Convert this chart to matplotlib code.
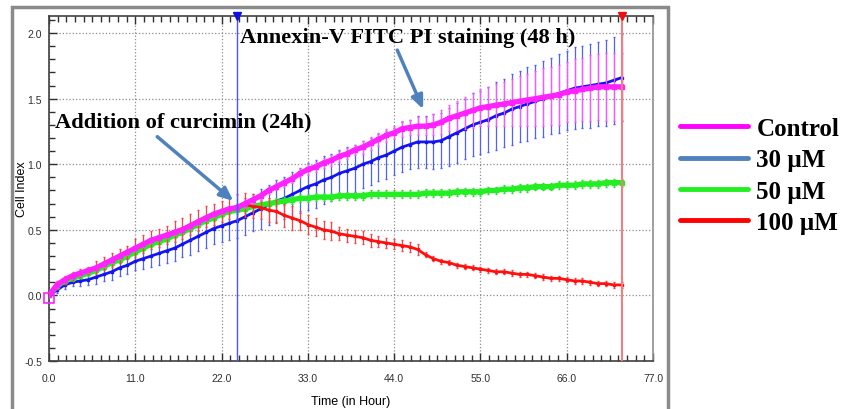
import numpy as np
import matplotlib.pyplot as plt
from matplotlib.lines import Line2D
from matplotlib.patches import Rectangle
from matplotlib.ticker import MultipleLocator, FormatStrFormatter

# time points (hours)
hours = list(range(74))

control = [0.00, 0.08, 0.12, 0.15, 0.17, 0.19, 0.21, 0.24, 0.27, 0.30,
           0.33, 0.36, 0.39, 0.42, 0.44, 0.46, 0.48, 0.50, 0.53, 0.56,
           0.59, 0.62, 0.64, 0.66, 0.67, 0.70, 0.73, 0.76, 0.80, 0.83,
           0.86, 0.89, 0.93, 0.96, 0.98, 1.01, 1.03, 1.06, 1.08, 1.11,
           1.13, 1.16, 1.19, 1.22, 1.24, 1.27, 1.28, 1.29, 1.29, 1.30,
           1.32, 1.35, 1.37, 1.39, 1.41, 1.43, 1.44, 1.45, 1.46, 1.47,
           1.48, 1.49, 1.50, 1.51, 1.52, 1.53, 1.55, 1.56, 1.57, 1.58,
           1.59, 1.59, 1.59, 1.59]
control_err = [0.00, 0.02, 0.02, 0.02, 0.02, 0.02, 0.02, 0.02, 0.02, 0.02,
               0.02, 0.02, 0.02, 0.02, 0.02, 0.02, 0.02, 0.02, 0.02, 0.02,
               0.02, 0.02, 0.02, 0.02, 0.03, 0.03, 0.03, 0.03, 0.03, 0.03,
               0.03, 0.03, 0.03, 0.04, 0.04, 0.04, 0.04, 0.04, 0.04, 0.04,
               0.05, 0.05, 0.05, 0.05, 0.05, 0.06, 0.06, 0.07, 0.07, 0.08,
               0.09, 0.10, 0.11, 0.12, 0.13, 0.14, 0.15, 0.16, 0.17, 0.18,
               0.19, 0.20, 0.21, 0.22, 0.22, 0.23, 0.23, 0.24, 0.24, 0.25,
               0.25, 0.26, 0.26, 0.26]

um30 = [0.00, 0.04, 0.08, 0.10, 0.11, 0.12, 0.14, 0.16, 0.18, 0.21,
        0.23, 0.26, 0.28, 0.30, 0.32, 0.34, 0.36, 0.39, 0.42, 0.45,
        0.48, 0.51, 0.53, 0.55, 0.57, 0.60, 0.63, 0.66, 0.69, 0.72,
        0.74, 0.77, 0.80, 0.83, 0.85, 0.88, 0.90, 0.93, 0.95, 0.97,
        1.00, 1.02, 1.05, 1.07, 1.10, 1.13, 1.15, 1.17, 1.17, 1.17,
        1.18, 1.21, 1.24, 1.27, 1.30, 1.32, 1.34, 1.37, 1.39, 1.42,
        1.44, 1.46, 1.48, 1.50, 1.52, 1.54, 1.56, 1.58, 1.59, 1.60,
        1.61, 1.62, 1.64, 1.66]
um30_err = [0.00, 0.02, 0.03, 0.03, 0.04, 0.04, 0.05, 0.05, 0.06, 0.06,
            0.07, 0.07, 0.08, 0.08, 0.09, 0.09, 0.10, 0.10, 0.11, 0.11,
            0.12, 0.12, 0.12, 0.13, 0.13, 0.14, 0.14, 0.15, 0.15, 0.16,
            0.16, 0.17, 0.17, 0.18, 0.18, 0.18, 0.18, 0.18, 0.18, 0.18,
            0.18, 0.18, 0.18, 0.18, 0.18, 0.19, 0.19, 0.20, 0.20, 0.21,
            0.21, 0.22, 0.23, 0.23, 0.24, 0.24, 0.25, 0.26, 0.26, 0.27,
            0.27, 0.28, 0.28, 0.29, 0.29, 0.30, 0.30, 0.31, 0.31, 0.32,
            0.32, 0.33, 0.33, 0.33]

um50 = [0.00, 0.07, 0.11, 0.13, 0.15, 0.17, 0.19, 0.22, 0.25, 0.27,
        0.30, 0.33, 0.36, 0.39, 0.41, 0.43, 0.46, 0.48, 0.51, 0.54,
        0.57, 0.59, 0.62, 0.64, 0.65, 0.66, 0.68, 0.69, 0.70, 0.71,
        0.72, 0.73, 0.74, 0.74, 0.75, 0.75, 0.75, 0.76, 0.76, 0.76,
        0.76, 0.77, 0.77, 0.77, 0.77, 0.77, 0.77, 0.77, 0.78, 0.78,
        0.78, 0.78, 0.79, 0.79, 0.79, 0.79, 0.80, 0.80, 0.81, 0.81,
        0.82, 0.82, 0.83, 0.83, 0.83, 0.84, 0.84, 0.84, 0.85, 0.85,
        0.85, 0.86, 0.86, 0.86]
um50_err = [0.00] + [0.02] * 23 + [0.03] * 50

um100 = [0.00, 0.08, 0.12, 0.15, 0.17, 0.19, 0.21, 0.24, 0.27, 0.30,
         0.33, 0.36, 0.39, 0.42, 0.44, 0.46, 0.49, 0.51, 0.54, 0.57,
         0.60, 0.62, 0.64, 0.66, 0.68, 0.69, 0.68, 0.67, 0.65, 0.64,
         0.61, 0.59, 0.57, 0.54, 0.52, 0.50, 0.49, 0.47, 0.46, 0.45,
         0.44, 0.42, 0.41, 0.40, 0.39, 0.38, 0.37, 0.35, 0.31, 0.28,
         0.26, 0.25, 0.23, 0.22, 0.21, 0.20, 0.19, 0.18, 0.18, 0.17,
         0.16, 0.16, 0.15, 0.14, 0.13, 0.13, 0.12, 0.11, 0.11, 0.10,
         0.09, 0.09, 0.08, 0.08]
um100_err = [0.00, 0.03, 0.03, 0.03, 0.03, 0.03, 0.05, 0.05, 0.05, 0.05,
             0.05, 0.07, 0.07, 0.07, 0.07, 0.07, 0.08, 0.08, 0.08, 0.08,
             0.08, 0.08, 0.08, 0.08, 0.09, 0.09, 0.09, 0.09, 0.09, 0.09,
             0.09, 0.09, 0.07, 0.07, 0.07, 0.07, 0.07, 0.05, 0.05, 0.05,
             0.05, 0.05, 0.04, 0.04, 0.04, 0.04, 0.04, 0.04, 0.02, 0.02,
             0.02, 0.02, 0.02, 0.02, 0.02, 0.02, 0.02, 0.02, 0.02, 0.02,
             0.02, 0.02, 0.02, 0.02, 0.02, 0.02, 0.02, 0.02, 0.02, 0.02,
             0.02, 0.02, 0.02, 0.02]

legend_labels = ["Control", "30 \u00b5M", "50 \u00b5M", "100 \u00b5M"]
legend_colors = ["#ff00ff", "#4f81bd", "#22ee22", "#ff0000"]

x_ticks = [0, 11, 22, 33, 44, 55, 66, 77]
y_ticks = [-0.5, 0.0, 0.5, 1.0, 1.5, 2.0]
addition_time = 24
staining_time = 73

fig = plt.figure(figsize=(8.58, 4.10), dpi=100)
ax = fig.add_axes([49 / 858, 1 - 362 / 410, (653 - 49) / 858, (362 - 17) / 410])

# series (blue drawn first, magenta on top)
ax.errorbar(hours, um30, yerr=um30_err, color="#1414f0", ecolor="#5060ff",
            elinewidth=0.9, capsize=1.0, lw=2, marker="s", ms=2, zorder=3)
ax.errorbar(hours, um50, yerr=um50_err, color="#22ee22", ecolor="#33dd33",
            elinewidth=0.9, capsize=1.0, lw=3.8, marker="s", ms=2.5, zorder=4)
ax.errorbar(hours, um100, yerr=um100_err, color="#ff1010", ecolor="#ff4040",
            elinewidth=0.9, capsize=1.0, lw=2, marker="s", ms=2, zorder=5)
ax.errorbar(hours, control, yerr=control_err, color="#ff22ff", ecolor="#ff55ff",
            elinewidth=0.9, capsize=1.0, lw=3.8, marker="s", ms=2.5, zorder=6)
ax.plot(hours[0], control[0] - 0.02, marker="s", ms=7, mfc="none", mec="#ff22ff",
        mew=1.2, zorder=7, clip_on=False)

ax.set_xlim(0, 77)
ax.set_ylim(-0.5, 2.13)

# event markers
ax.axvline(addition_time, color="#4a55ff", lw=1, zorder=8)
ax.axvline(staining_time, color="#f08080", lw=1.5, zorder=8)
ax.plot(addition_time, 2.13, marker="v", color="#1010e0", ms=6, clip_on=False, zorder=9)
ax.plot(staining_time, 2.13, marker="v", color="#ee1010", ms=6, clip_on=False, zorder=9)

# ticks and grid
ax.set_xticks(x_ticks)
ax.set_yticks(y_ticks)
ax.xaxis.set_minor_locator(MultipleLocator(1.1))
ax.yaxis.set_minor_locator(MultipleLocator(0.1))
ax.xaxis.set_major_formatter(FormatStrFormatter("%.1f"))
ax.yaxis.set_major_formatter(FormatStrFormatter("%.1f"))
ax.tick_params(axis="x", which="both", direction="in", top=True, bottom=True,
               colors="#303030", labelsize=7.5, pad=9)
ax.tick_params(axis="y", which="both", direction="in", left=True, right=False,
               colors="#303030", labelsize=7.5, pad=5)
ax.tick_params(which="major", length=6, width=1)
ax.tick_params(which="minor", length=4, width=1)
for lab in ax.get_xticklabels() + ax.get_yticklabels():
    lab.set_family("Liberation Sans")
ax.grid(True, which="major", ls=":", color="#8c8c8c", lw=0.9)
for sp in ax.spines.values():
    sp.set_color("#404040")
    sp.set_linewidth(1.2)
ax.spines["right"].set_color("#909090")

ax.set_xlabel("Time (in Hour)", family="Liberation Sans", fontsize=9, labelpad=8)
ax.set_ylabel("Cell Index", family="Liberation Sans", fontsize=9, labelpad=-3)

# annotations
serif = dict(family="Liberation Serif", weight="bold", fontsize=16.2, color="black")
ax.text(0.8, 1.326, "Addition of curcimin (24h)", va="center", ha="left", zorder=10, **serif)
ax.text(24.4, 1.97, "Annexin-V FITC PI staining (48 h)", va="center", ha="left", zorder=10, **serif)
arrow = dict(arrowstyle="-|>,head_width=0.35,head_length=0.8", color="#4f81bd",
             lw=2.5, shrinkA=0, shrinkB=0)
ax.annotate("", xy=(23.5, 0.72), xytext=(13.8, 1.21), arrowprops=arrow, zorder=10)
ax.annotate("", xy=(47.7, 1.42), xytext=(44.4, 1.87), arrowprops=arrow, zorder=10)

# legend
handles = [Line2D([0], [0], color=c, lw=3.5, solid_capstyle="round") for c in legend_colors]
fig.legend(handles, legend_labels, loc="upper left", bbox_to_anchor=(680 / 858, 1 - 118 / 410),
           frameon=False, borderpad=0, borderaxespad=0, handlelength=2.7,
           handletextpad=0.35, labelspacing=0.33,
           prop=dict(family="Liberation Serif", weight="bold", size=18))

# outer window frame
fig.add_artist(Rectangle((12 / 858, -0.05), (668 - 12) / 858, 1.05 - 8 / 410,
                         transform=fig.transFigure, fill=False, ec="#8a8a8a", lw=2.5))

fig.savefig("out.png", dpi=100)
